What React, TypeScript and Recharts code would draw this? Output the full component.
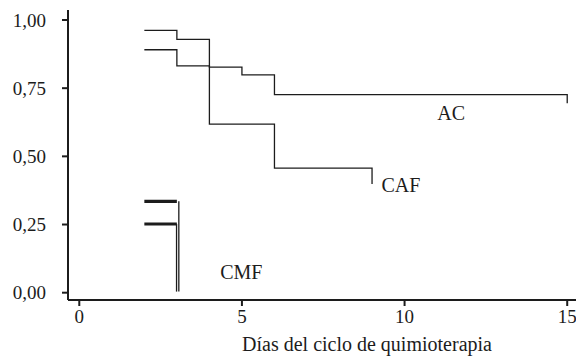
import React from 'react';
import { LineChart, Line, XAxis, YAxis, ReferenceDot, Label } from 'recharts';

// Kaplan-Meier style step curves (x = día, y = proporción)
const acCurve = [
  { x: 2, y: 0.891 },
  { x: 3, y: 0.832 },
  { x: 4, y: 0.827 },
  { x: 5, y: 0.799 },
  { x: 6, y: 0.726 },
  { x: 15, y: 0.726 },
  { x: 15, y: 0.695 },
];

const cafCurve = [
  { x: 2, y: 0.962 },
  { x: 3, y: 0.929 },
  { x: 4, y: 0.618 },
  { x: 6, y: 0.457 },
  { x: 9, y: 0.457 },
  { x: 9, y: 0.399 },
];

const cmfUpperBar = [
  { x: 2, y: 0.335 },
  { x: 3, y: 0.335 },
];
const cmfUpperDrop = [
  { x: 3.06, y: 0.335 },
  { x: 3.06, y: 0.004 },
];
const cmfLowerBar = [
  { x: 2, y: 0.252 },
  { x: 3, y: 0.252 },
];
const cmfLowerDrop = [
  { x: 2.99, y: 0.252 },
  { x: 2.99, y: 0.004 },
];

const xTicks = [0, 5, 10, 15];
const yTicks = [0, 0.25, 0.5, 0.75, 1];

const curveLabels = [
  { name: 'AC', x: 11.43, y: 0.659 },
  { name: 'CAF', x: 9.89, y: 0.395 },
  { name: 'CMF', x: 4.98, y: 0.077 },
];

const xTitle = 'Días del ciclo de quimioterapia';

const FONT = '"Liberation Serif", "Times New Roman", serif';
const INK = '#1c1c1c';

const fmtY = (v: number) => v.toFixed(2).replace('.', ',');

const tickStyle = { fontFamily: FONT, fontSize: 19, fill: INK };

function XTick(props: any) {
  const { x, y, payload } = props;
  return (
    <text x={x} y={y} dy="0.71em" textAnchor="middle" style={tickStyle}>
      {String(payload.value)}
    </text>
  );
}

function YTick(props: any) {
  const { x, y, payload } = props;
  return (
    <text x={x} y={y} dy="0.355em" textAnchor="end" style={tickStyle}>
      {fmtY(payload.value)}
    </text>
  );
}

export default function App() {
  const lineProps = {
    dataKey: 'y',
    stroke: INK,
    dot: false,
    activeDot: false,
    isAnimationActive: false,
    type: 'stepAfter' as const,
  };
  return (
    <div
      style={{
        position: 'absolute',
        left: 0,
        top: 0,
        width: 576,
        height: 356,
        background: '#fff',
        fontFamily: FONT,
      }}
    >
      <LineChart width={576} height={356} margin={{ top: 10, right: 0, bottom: 0, left: 0 }}>
        <XAxis
          type="number"
          dataKey="x"
          domain={[-0.347, 15.27]}
          allowDataOverflow
          ticks={xTicks}
          tickSize={6}
          tickMargin={4}
          height={56}
          axisLine={{ stroke: INK, strokeWidth: 2 }}
          tickLine={{ stroke: INK, strokeWidth: 2 }}
          tick={(p: any) => <XTick {...p} />}
        >
          <Label
            value={xTitle}
            position="insideBottom"
            offset={5}
            dx={45}
            style={{ fill: INK, fontSize: 20, fontFamily: FONT }}
          />
        </XAxis>
        <YAxis
          type="number"
          domain={[-0.0268, 1.0367]}
          allowDataOverflow
          ticks={yTicks}
          width={68}
          tickSize={6}
          tickMargin={16}
          axisLine={{ stroke: INK, strokeWidth: 2 }}
          tickLine={{ stroke: INK, strokeWidth: 2 }}
          tick={(p: any) => <YTick {...p} />}
        />
        <Line {...lineProps} data={acCurve} strokeWidth={1.3} />
        <Line {...lineProps} data={cafCurve} strokeWidth={1.3} />
        <Line {...lineProps} data={cmfUpperBar} strokeWidth={3.2} />
        <Line {...lineProps} data={cmfLowerBar} strokeWidth={3.2} />
        <Line {...lineProps} data={cmfUpperDrop} strokeWidth={1.3} />
        <Line {...lineProps} data={cmfLowerDrop} strokeWidth={1.3} />
        {curveLabels.map((l) => (
          <ReferenceDot
            key={l.name}
            x={l.x}
            y={l.y}
            r={0}
            stroke="none"
            fill="none"
            label={{ value: l.name, position: 'center', fill: INK, fontSize: 20, fontFamily: FONT }}
          />
        ))}
      </LineChart>
    </div>
  );
}
